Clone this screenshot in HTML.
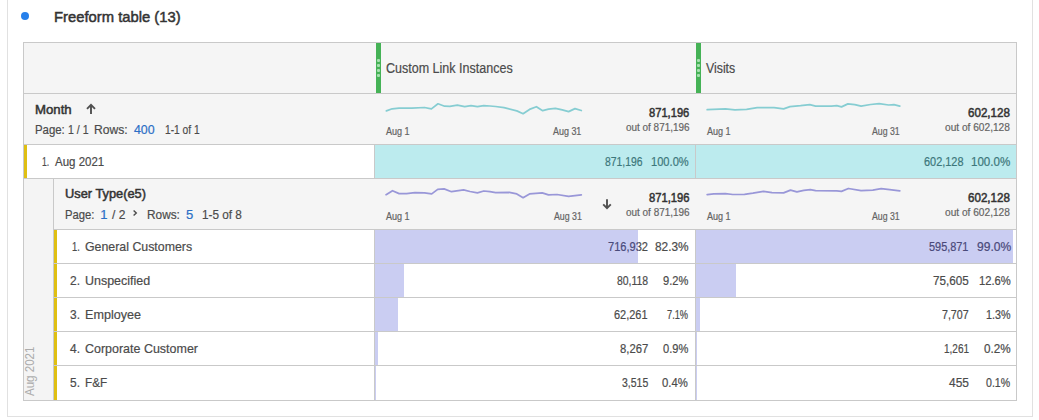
<!DOCTYPE html>
<html><head><meta charset="utf-8"><style>
html,body{margin:0;padding:0;background:#fff;}
body{width:1039px;height:420px;position:relative;overflow:hidden;font-family:"Liberation Sans",sans-serif;}
.t{position:absolute;white-space:nowrap;transform-origin:0 0;}
</style></head><body>
<div style='position:absolute;left:7px;top:0px;width:1px;height:417px;background:#e1e1e1;'></div><div style='position:absolute;left:1032px;top:0px;width:1px;height:417px;background:#e1e1e1;'></div><div style='position:absolute;left:7px;top:416px;width:1026px;height:1px;background:#e1e1e1;'></div><div style='position:absolute;left:21.3px;top:12.2px;width:8.2px;height:8.2px;background:#2680eb;border-radius:50%;'></div><div style='position:absolute;left:23px;top:42px;width:994px;height:359px;background:#c9c9c9;'></div><div style='position:absolute;left:24px;top:43px;width:992px;height:50px;background:#f5f5f5;'></div><div style='position:absolute;left:24px;top:94px;width:992px;height:50px;background:#f5f5f5;'></div><div style='position:absolute;left:24px;top:145px;width:992px;height:33px;background:#fff;'></div><div style='position:absolute;left:24px;top:145px;width:3px;height:33px;background:#dfbf12;'></div><div style='position:absolute;left:374px;top:145px;width:1px;height:33px;background:#c9c9c9;'></div><div style='position:absolute;left:375px;top:145px;width:320px;height:33px;background:#bcebee;'></div><div style='position:absolute;left:695px;top:145px;width:1px;height:33px;background:#c9c9c9;'></div><div style='position:absolute;left:696px;top:145px;width:320px;height:33px;background:#bcebee;'></div><div style='position:absolute;left:24px;top:179px;width:29px;height:221px;background:#f4f4f4;'></div><div style='position:absolute;left:53px;top:179px;width:1px;height:221px;background:#c9c9c9;'></div><div style='position:absolute;left:54px;top:179px;width:962px;height:50px;background:#f5f5f5;'></div><div style='position:absolute;left:54px;top:230px;width:962px;height:33px;background:#fff;'></div><div style='position:absolute;left:54px;top:230px;width:3px;height:33px;background:#dfbf12;'></div><div style='position:absolute;left:374px;top:230px;width:1px;height:33px;background:#c9c9c9;'></div><div style='position:absolute;left:695px;top:230px;width:1px;height:33px;background:#c9c9c9;'></div><div style='position:absolute;left:375px;top:230px;width:263px;height:33px;background:#cacdf2;'></div><div style='position:absolute;left:696px;top:230px;width:317px;height:33px;background:#cacdf2;'></div><div style='position:absolute;left:54px;top:264px;width:962px;height:33px;background:#fff;'></div><div style='position:absolute;left:54px;top:264px;width:3px;height:33px;background:#dfbf12;'></div><div style='position:absolute;left:374px;top:264px;width:1px;height:33px;background:#c9c9c9;'></div><div style='position:absolute;left:695px;top:264px;width:1px;height:33px;background:#c9c9c9;'></div><div style='position:absolute;left:375px;top:264px;width:29px;height:33px;background:#cacdf2;'></div><div style='position:absolute;left:696px;top:264px;width:40px;height:33px;background:#cacdf2;'></div><div style='position:absolute;left:54px;top:298px;width:962px;height:33px;background:#fff;'></div><div style='position:absolute;left:54px;top:298px;width:3px;height:33px;background:#dfbf12;'></div><div style='position:absolute;left:374px;top:298px;width:1px;height:33px;background:#c9c9c9;'></div><div style='position:absolute;left:695px;top:298px;width:1px;height:33px;background:#c9c9c9;'></div><div style='position:absolute;left:375px;top:298px;width:23px;height:33px;background:#cacdf2;'></div><div style='position:absolute;left:696px;top:298px;width:4px;height:33px;background:#cacdf2;'></div><div style='position:absolute;left:54px;top:332px;width:962px;height:33px;background:#fff;'></div><div style='position:absolute;left:54px;top:332px;width:3px;height:33px;background:#dfbf12;'></div><div style='position:absolute;left:374px;top:332px;width:1px;height:33px;background:#c9c9c9;'></div><div style='position:absolute;left:695px;top:332px;width:1px;height:33px;background:#c9c9c9;'></div><div style='position:absolute;left:375px;top:332px;width:3px;height:33px;background:#cacdf2;'></div><div style='position:absolute;left:696px;top:332px;width:1px;height:33px;background:#cacdf2;'></div><div style='position:absolute;left:54px;top:366px;width:962px;height:34px;background:#fff;'></div><div style='position:absolute;left:54px;top:366px;width:3px;height:34px;background:#dfbf12;'></div><div style='position:absolute;left:374px;top:366px;width:1px;height:34px;background:#c9c9c9;'></div><div style='position:absolute;left:695px;top:366px;width:1px;height:34px;background:#c9c9c9;'></div><div style='position:absolute;left:375px;top:366px;width:1px;height:34px;background:#cacdf2;'></div><div style='position:absolute;left:696px;top:366px;width:1px;height:34px;background:#cacdf2;'></div><div style='position:absolute;left:376px;top:43px;width:5px;height:50px;background:#45b256;'></div><div style='position:absolute;left:377.4px;top:59.4px;width:2.2px;height:2.2px;background:#a8e0b0;border-radius:50%;'></div><div style='position:absolute;left:377.4px;top:64.4px;width:2.2px;height:2.2px;background:#a8e0b0;border-radius:50%;'></div><div style='position:absolute;left:377.4px;top:69.4px;width:2.2px;height:2.2px;background:#a8e0b0;border-radius:50%;'></div><div style='position:absolute;left:377.4px;top:74.4px;width:2.2px;height:2.2px;background:#a8e0b0;border-radius:50%;'></div><div style='position:absolute;left:696px;top:43px;width:5px;height:50px;background:#45b256;'></div><div style='position:absolute;left:697.4px;top:59.4px;width:2.2px;height:2.2px;background:#a8e0b0;border-radius:50%;'></div><div style='position:absolute;left:697.4px;top:64.4px;width:2.2px;height:2.2px;background:#a8e0b0;border-radius:50%;'></div><div style='position:absolute;left:697.4px;top:69.4px;width:2.2px;height:2.2px;background:#a8e0b0;border-radius:50%;'></div><div style='position:absolute;left:697.4px;top:74.4px;width:2.2px;height:2.2px;background:#a8e0b0;border-radius:50%;'></div><svg style='position:absolute;left:0;top:0' width='1039' height='420'><polyline points='386.4,110.9 392.2,108.8 399.1,108.2 411.8,108.2 424.5,107.5 431.4,108.9 438.0,103.8 444.6,106.2 449.9,106.3 457.3,105.1 464.7,106.7 471.0,105.6 477.4,106.7 483.8,105.6 490.0,106.0 495.6,106.5 504.1,107.7 516.8,110.9 523.1,113.7 529.5,109.4 536.4,106.7 542.7,110.7 548.5,109.1 555.4,108.3 562.3,109.9 568.6,111.6 575.0,108.6 581.3,110.5' fill='none' stroke='#86cdd2' stroke-width='1.75' stroke-linejoin='round' stroke-linecap='round'/><polyline points='707.2,109.6 725.4,108.9 734.9,109.8 746.6,109.4 757.2,107.6 774.1,107.6 783.6,108.9 790.0,106.6 800.6,105.7 809.8,104.7 815.6,106.1 831.5,106.1 836.8,105.7 841.5,106.9 847.9,103.9 854.8,104.7 861.1,106.1 870.6,104.5 879.1,103.6 888.6,105.0 893.9,104.7 899.8,106.1' fill='none' stroke='#86cdd2' stroke-width='1.75' stroke-linejoin='round' stroke-linecap='round'/><polyline points='386.1,194.7 392.5,190.7 399.1,193.6 406.5,193.6 414.9,192.6 424.5,192.8 431.7,193.9 437.7,189.4 444.1,188.9 451.5,191.7 463.6,189.9 470.0,191.5 477.4,192.8 483.8,191.0 490.0,191.7 495.6,192.6 509.4,192.4 516.8,193.9 523.1,197.7 529.5,193.9 542.2,192.8 548.5,194.9 557.0,194.5 568.6,196.3 581.3,194.9' fill='none' stroke='#9997d8' stroke-width='1.75' stroke-linejoin='round' stroke-linecap='round'/><polyline points='707.2,194.6 713.8,193.8 725.4,193.6 732.8,194.5 744.5,194.3 752.9,193.2 763.5,191.4 772.0,192.7 783.6,192.9 790.5,190.1 796.9,191.9 803.8,190.3 810.3,189.7 815.6,190.6 836.8,190.8 841.5,191.4 848.4,188.5 861.1,190.6 872.8,190.1 881.2,188.7 889.7,189.7 899.8,190.8' fill='none' stroke='#9997d8' stroke-width='1.75' stroke-linejoin='round' stroke-linecap='round'/><path d='M91,114 V105.5 M87,108.8 L91,104.8 L95,108.8' fill='none' stroke='#505050' stroke-width='1.9'/><path d='M607,199.2 V207.8 M603.2,204.4 L607,208.2 L610.8,204.4' fill='none' stroke='#505050' stroke-width='1.9'/><path d='M133.6,210.4 L136.3,213 L133.6,215.6' fill='none' stroke='#4b4b4b' stroke-width='1.4'/></svg><div class='t' style='left:23.3px;top:395.8px;font-size:13.5px;line-height:13.5px;color:#acacac;transform-origin:0 0;transform:rotate(-90deg) scaleX(0.855);'>Aug 2021</div><div class='t' style='left:54.00px;top:9px;font-size:15.5px;font-weight:normal;-webkit-text-stroke-width:0.5px;line-height:15.5px;color:#333333;transform:scaleX(0.9549);'>Freeform table (13)</div><div class='t' style='left:385.70px;top:61px;font-size:14px;font-weight:normal;-webkit-text-stroke-width:0.2px;line-height:14px;color:#4b4b4b;transform:scaleX(0.8944);'>Custom Link Instances</div><div class='t' style='left:706.30px;top:61px;font-size:14px;font-weight:normal;-webkit-text-stroke-width:0.2px;line-height:14px;color:#4b4b4b;transform:scaleX(0.8794);'>Visits</div><div class='t' style='left:35.00px;top:103px;font-size:13px;font-weight:normal;-webkit-text-stroke-width:0.5px;line-height:13px;color:#333333;transform:scaleX(1.0135);'>Month</div><div class='t' style='left:34.60px;top:123px;font-size:13px;font-weight:normal;-webkit-text-stroke-width:0.2px;line-height:13px;color:#4b4b4b;transform:scaleX(0.8765);'>Page:</div><div class='t' style='left:67.50px;top:123px;font-size:13px;font-weight:normal;-webkit-text-stroke-width:0.2px;line-height:13px;color:#4b4b4b;transform:scaleX(0.8120);'>1 / 1</div><div class='t' style='left:93.50px;top:123px;font-size:13px;font-weight:normal;-webkit-text-stroke-width:0.2px;line-height:13px;color:#4b4b4b;transform:scaleX(0.9306);'>Rows:</div><div class='t' style='left:134.00px;top:123px;font-size:13px;font-weight:normal;-webkit-text-stroke-width:0.2px;line-height:13px;color:#2b6fc6;transform:scaleX(0.9500);'>400</div><div class='t' style='left:165.00px;top:123px;font-size:13px;font-weight:normal;-webkit-text-stroke-width:0.2px;line-height:13px;color:#4b4b4b;transform:scaleX(0.7864);'>1-1 of 1</div><div class='t' style='left:386.00px;top:127px;font-size:10px;font-weight:normal;-webkit-text-stroke-width:0.2px;line-height:10px;color:#646464;transform:scaleX(0.9038);'>Aug 1</div><div class='t' style='left:553.40px;top:127px;font-size:10px;font-weight:normal;-webkit-text-stroke-width:0.2px;line-height:10px;color:#646464;transform:scaleX(0.8938);'>Aug 31</div><div class='t' style='left:706.80px;top:127px;font-size:10px;font-weight:normal;-webkit-text-stroke-width:0.2px;line-height:10px;color:#646464;transform:scaleX(0.9038);'>Aug 1</div><div class='t' style='left:871.70px;top:127px;font-size:10px;font-weight:normal;-webkit-text-stroke-width:0.2px;line-height:10px;color:#646464;transform:scaleX(0.8719);'>Aug 31</div><div class='t' style='left:649.10px;top:107px;font-size:12px;font-weight:normal;-webkit-text-stroke-width:0.5px;line-height:12px;color:#333333;transform:scaleX(0.9295);'>871,196</div><div class='t' style='left:625.90px;top:122px;font-size:11px;font-weight:normal;-webkit-text-stroke-width:0.2px;line-height:11px;color:#646464;transform:scaleX(0.9028);'>out of 871,196</div><div class='t' style='left:967.70px;top:107px;font-size:12px;font-weight:normal;-webkit-text-stroke-width:0.5px;line-height:12px;color:#333333;transform:scaleX(0.9659);'>602,128</div><div class='t' style='left:944.70px;top:122px;font-size:11px;font-weight:normal;-webkit-text-stroke-width:0.2px;line-height:11px;color:#646464;transform:scaleX(0.9225);'>out of 602,128</div><div class='t' style='left:42.00px;top:155px;font-size:13px;font-weight:normal;-webkit-text-stroke-width:0.2px;line-height:13px;color:#4b4b4b;transform:scaleX(0.6700);'>1.</div><div class='t' style='left:54.50px;top:155px;font-size:13px;font-weight:normal;-webkit-text-stroke-width:0.2px;line-height:13px;color:#4b4b4b;transform:scaleX(0.8839);'>Aug 2021</div><div class='t' style='left:604.60px;top:156px;font-size:12px;font-weight:normal;-webkit-text-stroke-width:0.2px;line-height:12px;color:#3d777b;transform:scaleX(0.8636);'>871,196</div><div class='t' style='left:650.80px;top:156px;font-size:12px;font-weight:normal;-webkit-text-stroke-width:0.2px;line-height:12px;color:#3d777b;transform:scaleX(0.9268);'>100.0%</div><div class='t' style='left:923.50px;top:156px;font-size:12px;font-weight:normal;-webkit-text-stroke-width:0.2px;line-height:12px;color:#3d777b;transform:scaleX(0.9114);'>602,128</div><div class='t' style='left:971.30px;top:156px;font-size:12px;font-weight:normal;-webkit-text-stroke-width:0.2px;line-height:12px;color:#3d777b;transform:scaleX(0.9634);'>100.0%</div><div class='t' style='left:64.70px;top:187px;font-size:13px;font-weight:normal;-webkit-text-stroke-width:0.5px;line-height:13px;color:#333333;transform:scaleX(0.9866);'>User Type(e5)</div><div class='t' style='left:64.70px;top:208px;font-size:13px;font-weight:normal;-webkit-text-stroke-width:0.2px;line-height:13px;color:#4b4b4b;transform:scaleX(0.8676);'>Page:</div><div class='t' style='left:100.30px;top:208px;font-size:13px;font-weight:normal;-webkit-text-stroke-width:0.2px;line-height:13px;color:#2b6fc6;'>1</div><div class='t' style='left:111.50px;top:208px;font-size:13px;font-weight:normal;-webkit-text-stroke-width:0.2px;line-height:13px;color:#4b4b4b;transform:scaleX(0.9267);'>/ 2</div><div class='t' style='left:146.50px;top:208px;font-size:13px;font-weight:normal;-webkit-text-stroke-width:0.2px;line-height:13px;color:#4b4b4b;transform:scaleX(0.9111);'>Rows:</div><div class='t' style='left:186.00px;top:208px;font-size:13px;font-weight:normal;-webkit-text-stroke-width:0.2px;line-height:13px;color:#2b6fc6;'>5</div><div class='t' style='left:202.00px;top:208px;font-size:13px;font-weight:normal;-webkit-text-stroke-width:0.2px;line-height:13px;color:#4b4b4b;transform:scaleX(0.9045);'>1-5 of 8</div><div class='t' style='left:386.00px;top:212px;font-size:10px;font-weight:normal;-webkit-text-stroke-width:0.2px;line-height:10px;color:#646464;transform:scaleX(0.9038);'>Aug 1</div><div class='t' style='left:553.70px;top:212px;font-size:10px;font-weight:normal;-webkit-text-stroke-width:0.2px;line-height:10px;color:#646464;transform:scaleX(0.8781);'>Aug 31</div><div class='t' style='left:706.80px;top:212px;font-size:10px;font-weight:normal;-webkit-text-stroke-width:0.2px;line-height:10px;color:#646464;transform:scaleX(0.9038);'>Aug 1</div><div class='t' style='left:871.70px;top:212px;font-size:10px;font-weight:normal;-webkit-text-stroke-width:0.2px;line-height:10px;color:#646464;transform:scaleX(0.8719);'>Aug 31</div><div class='t' style='left:648.90px;top:192px;font-size:12px;font-weight:normal;-webkit-text-stroke-width:0.5px;line-height:12px;color:#333333;transform:scaleX(0.9341);'>871,196</div><div class='t' style='left:625.80px;top:207px;font-size:11px;font-weight:normal;-webkit-text-stroke-width:0.2px;line-height:11px;color:#646464;transform:scaleX(0.9042);'>out of 871,196</div><div class='t' style='left:967.70px;top:192px;font-size:12px;font-weight:normal;-webkit-text-stroke-width:0.5px;line-height:12px;color:#333333;transform:scaleX(0.9659);'>602,128</div><div class='t' style='left:944.70px;top:207px;font-size:11px;font-weight:normal;-webkit-text-stroke-width:0.2px;line-height:11px;color:#646464;transform:scaleX(0.9225);'>out of 602,128</div><div class='t' style='left:71.80px;top:240px;font-size:13px;font-weight:normal;-webkit-text-stroke-width:0.2px;line-height:13px;color:#4b4b4b;transform:scaleX(0.7200);'>1.</div><div class='t' style='left:84.60px;top:240px;font-size:13px;font-weight:normal;-webkit-text-stroke-width:0.2px;line-height:13px;color:#4b4b4b;transform:scaleX(0.9504);'>General Customers</div><div class='t' style='left:607.50px;top:241px;font-size:12px;font-weight:normal;-webkit-text-stroke-width:0.2px;line-height:12px;color:#4b4b4b;transform:scaleX(0.9205);clip-path:inset(-5px -5px -5px 33.14px);'>716,932</div><div class='t' style='left:607.50px;top:241px;font-size:12px;font-weight:normal;-webkit-text-stroke-width:0.2px;line-height:12px;color:#4b4b4b;transform:scaleX(0.9205);color:#4a4a7a;clip-path:inset(-5px calc(100% - 33.14px) -5px -5px);'>716,932</div><div class='t' style='left:655.20px;top:241px;font-size:12px;font-weight:normal;-webkit-text-stroke-width:0.2px;line-height:12px;color:#4b4b4b;transform:scaleX(0.9882);'>82.3%</div><div class='t' style='left:929.00px;top:241px;font-size:12px;font-weight:normal;-webkit-text-stroke-width:0.2px;line-height:12px;color:#4b4b4b;transform:scaleX(0.9091);clip-path:inset(-5px -5px -5px 92.40px);'>595,871</div><div class='t' style='left:929.00px;top:241px;font-size:12px;font-weight:normal;-webkit-text-stroke-width:0.2px;line-height:12px;color:#4b4b4b;transform:scaleX(0.9091);color:#4a4a7a;clip-path:inset(-5px calc(100% - 92.40px) -5px -5px);'>595,871</div><div class='t' style='left:976.60px;top:241px;font-size:12px;font-weight:normal;-webkit-text-stroke-width:0.2px;line-height:12px;color:#4b4b4b;transform:scaleX(1.0059);clip-path:inset(-5px -5px -5px 36.19px);'>99.0%</div><div class='t' style='left:976.60px;top:241px;font-size:12px;font-weight:normal;-webkit-text-stroke-width:0.2px;line-height:12px;color:#4b4b4b;transform:scaleX(1.0059);color:#4a4a7a;clip-path:inset(-5px calc(100% - 36.19px) -5px -5px);'>99.0%</div><div class='t' style='left:69.80px;top:274px;font-size:13px;font-weight:normal;-webkit-text-stroke-width:0.2px;line-height:13px;color:#4b4b4b;transform:scaleX(0.9200);'>2.</div><div class='t' style='left:84.60px;top:274px;font-size:13px;font-weight:normal;-webkit-text-stroke-width:0.2px;line-height:13px;color:#4b4b4b;transform:scaleX(0.9588);'>Unspecified</div><div class='t' style='left:616.70px;top:275px;font-size:12px;font-weight:normal;-webkit-text-stroke-width:0.2px;line-height:12px;color:#4b4b4b;transform:scaleX(0.8694);'>80,118</div><div class='t' style='left:662.90px;top:275px;font-size:12px;font-weight:normal;-webkit-text-stroke-width:0.2px;line-height:12px;color:#4b4b4b;transform:scaleX(0.9250);'>9.2%</div><div class='t' style='left:933.10px;top:275px;font-size:12px;font-weight:normal;-webkit-text-stroke-width:0.2px;line-height:12px;color:#4b4b4b;transform:scaleX(0.9703);'>75,605</div><div class='t' style='left:979.00px;top:275px;font-size:12px;font-weight:normal;-webkit-text-stroke-width:0.2px;line-height:12px;color:#4b4b4b;transform:scaleX(0.9353);'>12.6%</div><div class='t' style='left:69.80px;top:308px;font-size:13px;font-weight:normal;-webkit-text-stroke-width:0.2px;line-height:13px;color:#4b4b4b;transform:scaleX(0.9200);'>3.</div><div class='t' style='left:84.60px;top:308px;font-size:13px;font-weight:normal;-webkit-text-stroke-width:0.2px;line-height:13px;color:#4b4b4b;transform:scaleX(0.9690);'>Employee</div><div class='t' style='left:614.20px;top:309px;font-size:12px;font-weight:normal;-webkit-text-stroke-width:0.2px;line-height:12px;color:#4b4b4b;transform:scaleX(0.9135);'>62,261</div><div class='t' style='left:667.20px;top:309px;font-size:12px;font-weight:normal;-webkit-text-stroke-width:0.2px;line-height:12px;color:#4b4b4b;transform:scaleX(0.7714);'>7.1%</div><div class='t' style='left:942.40px;top:309px;font-size:12px;font-weight:normal;-webkit-text-stroke-width:0.2px;line-height:12px;color:#4b4b4b;transform:scaleX(0.8867);'>7,707</div><div class='t' style='left:985.70px;top:309px;font-size:12px;font-weight:normal;-webkit-text-stroke-width:0.2px;line-height:12px;color:#4b4b4b;transform:scaleX(0.8964);'>1.3%</div><div class='t' style='left:69.80px;top:342px;font-size:13px;font-weight:normal;-webkit-text-stroke-width:0.2px;line-height:13px;color:#4b4b4b;transform:scaleX(0.9200);'>4.</div><div class='t' style='left:84.60px;top:342px;font-size:13px;font-weight:normal;-webkit-text-stroke-width:0.2px;line-height:13px;color:#4b4b4b;transform:scaleX(0.9593);'>Corporate Customer</div><div class='t' style='left:619.80px;top:343px;font-size:12px;font-weight:normal;-webkit-text-stroke-width:0.2px;line-height:12px;color:#4b4b4b;transform:scaleX(0.9400);'>8,267</div><div class='t' style='left:662.90px;top:343px;font-size:12px;font-weight:normal;-webkit-text-stroke-width:0.2px;line-height:12px;color:#4b4b4b;transform:scaleX(0.9250);'>0.9%</div><div class='t' style='left:944.00px;top:343px;font-size:12px;font-weight:normal;-webkit-text-stroke-width:0.2px;line-height:12px;color:#4b4b4b;transform:scaleX(0.8333);'>1,261</div><div class='t' style='left:983.50px;top:343px;font-size:12px;font-weight:normal;-webkit-text-stroke-width:0.2px;line-height:12px;color:#4b4b4b;transform:scaleX(0.9750);'>0.2%</div><div class='t' style='left:69.80px;top:376px;font-size:13px;font-weight:normal;-webkit-text-stroke-width:0.2px;line-height:13px;color:#4b4b4b;transform:scaleX(0.9200);'>5.</div><div class='t' style='left:84.60px;top:376px;font-size:13px;font-weight:normal;-webkit-text-stroke-width:0.2px;line-height:13px;color:#4b4b4b;transform:scaleX(0.9080);'>F&F</div><div class='t' style='left:621.80px;top:377px;font-size:12px;font-weight:normal;-webkit-text-stroke-width:0.2px;line-height:12px;color:#4b4b4b;transform:scaleX(0.8733);'>3,515</div><div class='t' style='left:662.40px;top:377px;font-size:12px;font-weight:normal;-webkit-text-stroke-width:0.2px;line-height:12px;color:#4b4b4b;transform:scaleX(0.9429);'>0.4%</div><div class='t' style='left:949.10px;top:377px;font-size:12px;font-weight:normal;-webkit-text-stroke-width:0.2px;line-height:12px;color:#4b4b4b;transform:scaleX(0.9950);'>455</div><div class='t' style='left:986.10px;top:377px;font-size:12px;font-weight:normal;-webkit-text-stroke-width:0.2px;line-height:12px;color:#4b4b4b;transform:scaleX(0.8821);'>0.1%</div>
</body></html>
